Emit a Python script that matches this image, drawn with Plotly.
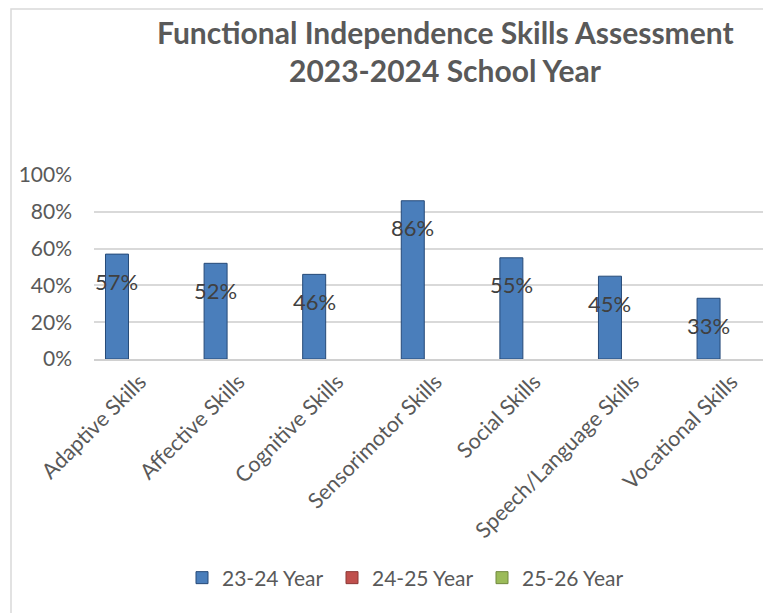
import plotly.graph_objects as go

categories = ["Adaptive Skills", "Affective Skills", "Cognitive Skills",
              "Sensorimotor Skills", "Social Skills", "Speech/Language Skills",
              "Vocational Skills"]
series_names = ["23-24 Year", "24-25 Year", "25-26 Year"]
values_2324 = [0.57, 0.52, 0.46, 0.86, 0.55, 0.45, 0.33]
values_2425 = [None] * 7
values_2526 = [None] * 7
series_colors = ["#4a7ebb", "#c0504d", "#9bbb59"]
line_colors = ["#264a78", "#8c3836", "#71893f"]
title_lines = ["Functional Independence Skills Assessment", "2023-2024 School Year"]

# page body has an 8px margin; layout below is expressed in screen pixels
OFF = 8
W, H = 771 - OFF, 613 - OFF
ML = 94 - OFF
MR = 0
MT = 175 - OFF
PLOT_BOTTOM = 359 - OFF
MB = H - PLOT_BOTTOM
PW = W - ML - MR
PH = H - MT - MB
BARGAP = 0.30
XR = [-0.4665, 6.40]
px_per_unit = PW / (XR[1] - XR[0])

FONT = "Lato"


def px(sx):
    return (sx - OFF - ML) / PW


def py(sy):
    return (MT + PH - (sy - OFF)) / PH


fig = go.Figure()
for name, vals, c, lc in zip(series_names, [values_2324, values_2425, values_2526],
                             series_colors, line_colors):
    fig.add_trace(go.Bar(x=categories, y=vals, name=name,
                         marker=dict(color=c, line=dict(color=lc, width=1))))

bar_w_px = (1 - BARGAP) / 3 * px_per_unit
annotations = []
for cat, v in zip(categories, values_2324):
    annotations.append(dict(x=cat, y=v, xref="x", yref="y", text=f"{round(v*100)}%",
                            showarrow=False, xshift=-bar_w_px, yshift=-27,
                            font=dict(family=FONT, size=22, color="#404040")))
for line, sy in zip(title_lines, [32, 70]):
    annotations.append(dict(x=px(446), y=py(sy), xref="paper", yref="paper",
                            xanchor="center", yanchor="middle", showarrow=False,
                            text=f"<b>{line}</b>",
                            font=dict(family=FONT, size=30, color="#595959")))

fig.update_layout(
    width=W, height=H,
    margin=dict(l=ML, r=MR, t=MT, b=MB, autoexpand=False),
    paper_bgcolor="white", plot_bgcolor="white",
    barmode="group", bargap=BARGAP, bargroupgap=0,
    xaxis=dict(range=XR, tickangle=-45, showgrid=False, showline=True,
               linecolor="#d0d0d0", linewidth=1.5, ticks="",
               tickfont=dict(family=FONT, size=21.5, color="#595959")),
    yaxis=dict(range=[0, 1], dtick=0.2, tickformat=".0%", showgrid=True,
               gridcolor="#d9d9d9", gridwidth=1.5, zeroline=False, showline=False,
               ticks="", ticklabelstandoff=21,
               tickfont=dict(family=FONT, size=21, color="#595959")),
    legend=dict(orientation="h", x=px(182), xanchor="left", y=py(578), yanchor="middle",
                entrywidth=105, entrywidthmode="pixels",
                font=dict(family=FONT, size=21, color="#595959")),
    annotations=annotations,
    shapes=[dict(type="rect", xref="paper", yref="paper",
                 x0=px(11), x1=px(900), y0=py(700), y1=py(9),
                 line=dict(color="#d9d9d9", width=1.5), fillcolor="rgba(0,0,0,0)",
                 layer="below")],
    showlegend=True,
)

fig.write_html("out.html")
